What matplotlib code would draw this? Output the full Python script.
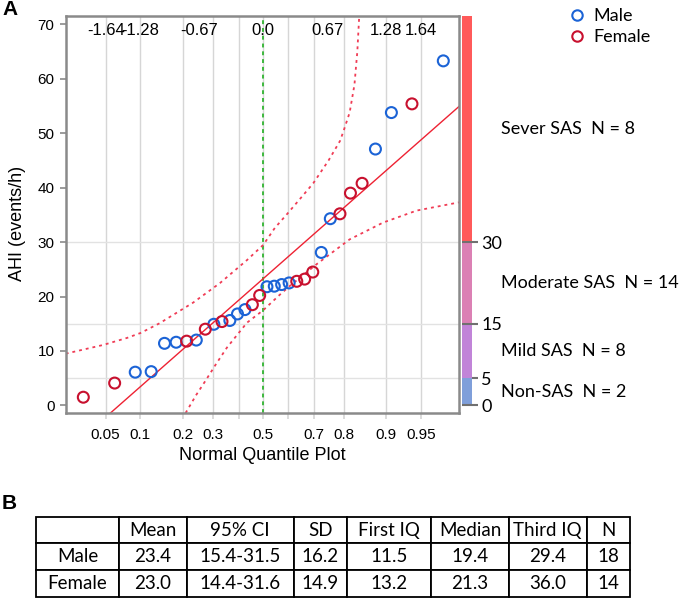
import numpy as np
import matplotlib.pyplot as plt
import matplotlib.transforms as mtransforms
from matplotlib.lines import Line2D
from statistics import NormalDist

# %%
# AHI values (events/h)
male_ahi = [6.1, 6.2, 11.4, 11.6, 12.0, 14.9, 15.6, 16.8, 17.6, 21.8, 21.9,
            22.2, 22.5, 28.1, 34.3, 47.1, 53.8, 63.3]
female_ahi = [1.5, 4.1, 11.8, 14.0, 15.4, 18.5, 20.2, 22.8, 23.2, 24.5, 35.2,
              39.0, 40.8, 55.4]

# Fitted normal line and the dashed confidence band
fit_mean = 23.3
fit_sd = 15.5
upper_z = [-2.06, -1.67, -1.42, -1.28, -1.08, -0.73, -0.45, -0.17, 0.0, 0.12,
           0.25, 0.40, 0.52, 0.68, 0.80, 0.84, 0.90, 0.95, 0.98, 1.0]
upper_y = [9.5, 11.1, 12.4, 13.3, 15.1, 18.9, 22.5, 26.7, 29.5, 32.6,
           35.2, 38.3, 40.8, 45.0, 48.6, 50.6, 53.8, 58.9, 65.0, 71.6]
lower_z = [-0.81, -0.70, -0.60, -0.50, -0.38, -0.17, 0.0, 0.17, 0.28, 0.56,
           0.90, 1.25, 1.60, 2.04]
lower_y = [-1.4, 1.9, 4.6, 7.4, 10.6, 15.2, 17.5, 20.3, 22.0, 26.0,
           30.5, 33.6, 35.8, 37.3]

# Axis ticks
prob_ticks = [0.05, 0.1, 0.2, 0.3, 0.4, 0.5, 0.6, 0.7, 0.8, 0.9, 0.95]
prob_labels = ["0.05", "0.1", "0.2", "0.3", "", "0.5", "", "0.7", "0.8", "0.9", "0.95"]
z_marks = [-1.64, -1.28, -0.67, 0.0, 0.67, 1.28, 1.64]
z_labels = ["-1.64", "-1.28", "-0.67", "0.0", "0.67", "1.28", "1.64"]
ahi_ticks = [0, 10, 20, 30, 40, 50, 60, 70]

# Severity categories
sev_edges = [0, 5, 15, 30]
sev_colors = ["#7F9FDA", "#C184D8", "#DB80B4", "#FF5A5A"]
sev_labels = ["Non-SAS  N = 2", "Mild SAS  N = 8", "Moderate SAS  N = 14", "Sever SAS  N = 8"]

# Summary table
table_cols = ["", "Mean", "95% CI", "SD", "First IQ", "Median", "Third IQ", "N"]
table_rows = [
    ["Male", "23.4", "15.4-31.5", "16.2", "11.5", "19.4", "29.4", "18"],
    ["Female", "23.0", "14.4-31.6", "14.9", "13.2", "21.3", "36.0", "14"],
]

male_color = "#1B63D6"
female_color = "#C8102E"
frame_gray = "#8A8A8A"
grid_gray = "#D6D6D6"
axis_font = "Liberation Sans"
text_font = "Lato"

# %%
# Normal quantile positions from the combined ranks
all_ahi = np.array(male_ahi + female_ahi)
is_male = np.array([True] * len(male_ahi) + [False] * len(female_ahi))
order = np.argsort(all_ahi, kind="stable")
ranks = np.empty(len(all_ahi))
ranks[order] = np.arange(1, len(all_ahi) + 1)
nd = NormalDist()
zpos = np.array([nd.inv_cdf(r / (len(all_ahi) + 1)) for r in ranks])
prob_z = [nd.inv_cdf(p) for p in prob_ticks]

W, H = 685, 598
fig = plt.figure(figsize=(W / 100, H / 100), dpi=100)

def px_box(left, top, right, bottom):
    return [left / W, 1 - bottom / H, (right - left) / W, (bottom - top) / H]

ax = fig.add_axes(px_box(65.7, 15.7, 459, 413))
ylim = (-1.4, 71.6)
ax.set_xlim(-2.06, 2.04)
ax.set_ylim(*ylim)

for z in prob_z:
    ax.axvline(z, color=grid_gray, lw=1, zorder=0)
for y in sev_edges[1:]:
    ax.axhline(y, color="#E2E2E2", lw=1, zorder=0)
ax.axvline(0, color="#3DB83D", lw=1.4, ls=(0, (2, 2)), zorder=1)

ax.axline((0, fit_mean), slope=fit_sd, color="#EE2233", lw=1, zorder=2)
ax.plot(upper_z, upper_y, color="#F03C55", lw=1.3, ls=(0, (1.6, 2.2)), zorder=2)
ax.plot(lower_z, lower_y, color="#F03C55", lw=1.3, ls=(0, (1.6, 2.2)), zorder=2)

ax.scatter(zpos[is_male], all_ahi[is_male], s=62, facecolors="none",
           edgecolors=male_color, linewidths=1.5, zorder=3)
ax.scatter(zpos[~is_male], all_ahi[~is_male], s=62, facecolors="none",
           edgecolors=female_color, linewidths=1.5, zorder=3)

trans = mtransforms.blended_transform_factory(ax.transData, ax.transAxes)
for z, lab in zip(z_marks, z_labels):
    ax.text(z, 0.962, lab, transform=trans, ha="center", va="center",
            fontsize=12, family=axis_font)

ax.set_yticks(ahi_ticks)
ax.set_yticklabels([str(t) for t in ahi_ticks], family=axis_font, fontsize=11)
ax.set_xticks(prob_z)
ax.set_xticklabels(prob_labels, family=axis_font, fontsize=11)
ax.tick_params(axis="y", length=4, width=1.2, color=frame_gray, pad=4)
ax.tick_params(axis="x", length=4, width=1.2, color=grid_gray, pad=7)
for sp in ax.spines.values():
    sp.set_color(frame_gray)
    sp.set_linewidth(1.8)

fig.text(18 / W, 1 - 223 / H, "AHI (events/h)", rotation=90, ha="center",
         va="center", fontsize=13, family=axis_font)
fig.text(262 / W, 1 - 455 / H, "Normal Quantile Plot", ha="center",
         va="center", fontsize=13, family=axis_font)

# %%
# Severity colour bar on the right
bar = fig.add_axes(px_box(461.7, 15.7, 471.7, 413))
bar.set_ylim(*ylim)
bar.set_xlim(0, 1)
tops = sev_edges[1:] + [ylim[1]]
heights = [t - b for b, t in zip(sev_edges, tops)]
bar.bar([0.5] * 4, heights, bottom=sev_edges, width=1, color=sev_colors, zorder=1)
bar.hlines([0, 15, 30], 0, 1, color="#707070", lw=1.5, zorder=2)
for sp in bar.spines.values():
    sp.set_visible(False)
bar.set_xticks([])
bar.yaxis.tick_right()
bar.set_yticks(sev_edges)
bar.set_yticklabels([str(e) for e in sev_edges], family=text_font, fontsize=13)
bar.tick_params(axis="y", length=4, width=1.5, color="#707070", pad=3)
for b, t, lab in zip(sev_edges, tops, sev_labels):
    bar.text(501 / W, (b + t) / 2, lab,
             transform=mtransforms.blended_transform_factory(fig.transFigure, bar.transData),
             ha="left", va="center", fontsize=13, family=text_font)

handles = [Line2D([], [], marker="o", ls="none", mfc="none", mec=male_color, ms=7.5, mew=1.5),
           Line2D([], [], marker="o", ls="none", mfc="none", mec=female_color, ms=7.5, mew=1.5)]
fig.legend(handles, ["Male", "Female"], loc="upper left",
           bbox_to_anchor=(570 / W, 1 - 8 / H), frameon=False,
           prop={"family": text_font, "size": 13}, handlelength=0.8,
           handletextpad=0.5, labelspacing=0.3, borderpad=0, borderaxespad=0)

fig.text(2 / W, 1 - 0 / H, "A", ha="left", va="top", fontsize=15,
         fontweight="bold", family=axis_font)
fig.text(2 / W, 1 - 494 / H, "B", ha="left", va="top", fontsize=15,
         fontweight="bold", family=axis_font)

# %%
# Summary table
tab_ax = fig.add_axes(px_box(36, 516.7, 630, 597))
tab_ax.axis("off")
col_w = [83, 67.7, 106.6, 53.7, 83.7, 77.6, 77.7, 43.3]
col_w = [w / sum(col_w) for w in col_w]
tbl = tab_ax.table(cellText=[table_cols] + table_rows, colWidths=col_w,
                   cellLoc="center", bbox=[0, 0, 1, 1])
tbl.auto_set_font_size(False)
for cell in tbl.get_celld().values():
    cell.set_linewidth(1.3)
    cell.set_edgecolor("black")
    cell.set_text_props(fontsize=13.5, family=text_font)

fig.savefig("out.png", dpi=100)
